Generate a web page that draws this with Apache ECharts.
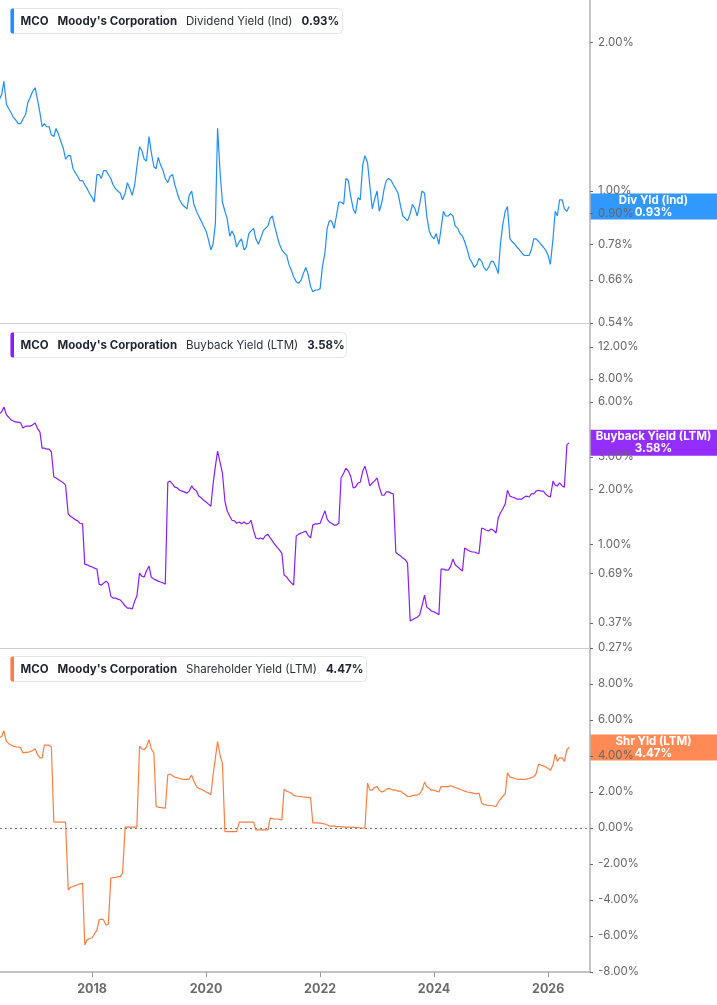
<!DOCTYPE html>
<html>
<head>
<meta charset="utf-8">
<script src="https://cdn.jsdelivr.net/npm/echarts@6/dist/echarts.min.js"></script>
<style>
  html, body { margin: 0; padding: 0; background: #fff; }
  #chart { width: 717px; height: 1005px; }
</style>
</head>
<body>
<div id="chart"></div>
<script>
// semi-monthly observation dates, 2016-05-15 .. 2026-05-15
function halfMonths(y, m, n) {
  var out = [];
  var day = 15;
  for (var i = 0; i < n; i++) {
    out.push(y + "-" + (m < 10 ? "0" + m : m) + "-" + (day < 10 ? "0" + day : day));
    if (day === 15) {
      day = 1;
      m++;
      if (m > 12) { m = 1; y++; }
    } else {
      day = 15;
    }
  }
  return out;
}
var dates = halfMonths(2016, 5, 241);

var divYield = [
  1.53,1.57,1.67,1.50,1.47,1.44,1.41,1.39,1.37,1.37,1.40,1.43,1.51,1.55,1.59,1.62,1.54,1.44,1.35,1.37,1.35,1.35,1.30,1.29,
  1.34,1.30,1.26,1.22,1.16,1.18,1.18,1.11,1.09,1.07,1.05,1.05,1.03,1.01,0.99,0.97,0.95,1.08,1.08,1.06,1.10,1.10,1.08,1.06,
  1.03,1.01,1.00,0.99,0.96,0.99,1.04,1.01,0.98,1.03,1.12,1.23,1.21,1.16,1.15,1.29,1.20,1.12,1.11,1.17,1.13,1.10,1.06,1.04,
  1.07,1.08,1.03,0.99,0.96,0.94,0.93,0.92,0.98,1.00,0.94,0.91,0.89,0.87,0.85,0.83,0.80,0.76,0.78,0.86,1.34,1.08,0.95,0.91,
  0.88,0.81,0.83,0.81,0.77,0.79,0.80,0.76,0.77,0.82,0.83,0.84,0.80,0.78,0.80,0.83,0.84,0.85,0.88,0.89,0.85,0.81,0.78,0.76,
  0.75,0.74,0.71,0.69,0.67,0.655,0.65,0.66,0.68,0.70,0.68,0.64,0.625,0.63,0.63,0.634,0.70,0.75,0.84,0.87,0.87,0.84,0.89,0.95,
  0.95,0.94,1.06,1.05,0.98,0.92,0.90,0.97,0.96,1.13,1.18,1.14,1.03,0.92,0.96,1.00,0.91,0.95,1.01,1.05,1.06,1.05,1.03,1.01,
  0.99,0.93,0.89,0.88,0.87,0.90,0.94,0.92,0.89,0.94,1.00,0.99,0.89,0.83,0.81,0.80,0.82,0.78,0.84,0.91,0.89,0.89,0.90,0.89,
  0.85,0.84,0.82,0.81,0.79,0.76,0.73,0.715,0.70,0.71,0.73,0.72,0.70,0.69,0.70,0.72,0.72,0.70,0.68,0.78,0.85,0.91,0.93,0.80,
  0.79,0.78,0.77,0.76,0.75,0.74,0.74,0.74,0.76,0.80,0.80,0.79,0.78,0.77,0.76,0.74,0.71,0.80,0.91,0.89,0.96,0.96,0.92,0.91,
  0.93
];

var buybackYield = [
  5.15,5.30,5.62,5.10,4.95,4.77,4.71,4.65,4.65,4.60,4.31,4.42,4.42,4.42,4.48,4.60,4.31,4.10,3.35,3.35,3.31,3.31,3.20,2.33,
  2.30,2.25,2.21,2.16,2.10,1.46,1.42,1.39,1.36,1.34,1.30,1.29,0.777,0.77,0.758,0.75,0.739,0.730,0.604,0.596,0.61,0.627,0.61,0.519,
  0.506,0.506,0.50,0.494,0.48,0.458,0.446,0.446,0.441,0.488,0.52,0.694,0.668,0.66,0.712,0.758,0.66,0.643,0.635,0.627,0.62,0.612,0.604,2.18,
  2.21,2.13,2.05,2.03,1.97,1.95,1.93,1.90,1.95,2.08,2.00,1.95,1.83,1.79,1.74,1.70,1.66,1.61,2.13,2.67,3.23,2.77,2.45,1.72,
  1.52,1.42,1.35,1.34,1.30,1.32,1.29,1.32,1.29,1.30,1.35,1.18,1.08,1.065,1.08,1.065,1.11,1.13,1.08,1.04,1.00,0.96,0.93,0.89,
  0.677,0.66,0.635,0.612,0.596,1.106,1.13,1.15,1.16,1.18,1.12,1.08,1.27,1.29,1.29,1.30,1.40,1.52,1.37,1.32,1.30,1.27,1.27,1.30,
  2.30,2.45,2.60,2.51,2.36,2.03,2.05,2.16,2.18,2.51,2.67,2.36,2.08,2.16,2.21,2.30,2.05,1.85,1.85,1.93,1.93,1.90,1.88,0.90,
  0.88,0.86,0.838,0.82,0.787,0.379,0.385,0.393,0.398,0.41,0.458,0.525,0.452,0.441,0.43,0.425,0.419,0.41,0.73,0.73,0.72,0.72,0.75,0.83,
  0.77,0.75,0.73,0.712,0.951,0.93,0.916,0.905,0.905,0.893,0.89,1.224,1.21,1.19,1.18,1.21,1.19,1.15,1.39,1.48,1.55,1.66,1.97,1.83,
  1.81,1.79,1.76,1.76,1.76,1.81,1.83,1.81,1.88,1.88,1.95,1.97,1.95,1.95,1.88,1.83,1.81,2.21,2.10,2.08,2.16,2.08,2.05,3.50,
  3.58
];

var shrYield = [
  5.0,5.1,5.4,4.8,4.7,4.6,4.55,4.5,4.5,4.45,4.17,4.2,4.2,4.25,4.3,4.4,4.1,3.9,3.9,4.6,4.6,4.6,4.5,0.33,
  0.33,0.33,0.33,0.33,0.33,-3.44,-3.3,-3.25,-3.2,-3.15,-3.1,-3.06,-6.5,-6.2,-6.15,-6.1,-5.9,-5.67,-5.1,-5.06,-5.1,-5.4,-5.35,-2.8,
  -2.75,-2.75,-2.7,-2.7,-2.5,0.05,0.05,0.05,0.05,0.05,0.05,4.55,4.4,4.35,4.5,4.9,4.4,4.15,1.22,1.15,1.15,1.12,1.1,2.95,
  3.0,2.9,2.82,2.8,2.75,2.72,2.7,2.7,2.72,2.94,2.6,2.3,2.2,2.15,2.1,2.0,1.95,1.85,2.94,3.9,4.8,4.0,3.6,-0.2,
  -0.2,-0.2,-0.2,-0.2,-0.2,0.33,0.33,0.33,0.33,0.33,0.33,0.33,-0.1,-0.1,-0.1,-0.1,-0.1,-0.1,0.55,0.52,0.5,0.5,0.48,0.45,
  2.15,2.05,2.0,1.94,1.8,1.78,1.75,1.75,1.72,1.72,1.7,1.67,0.28,0.28,0.28,0.27,0.25,0.22,0.17,0.12,0.1,0.1,0.08,0.08,
  0.07,0.06,0.05,0.05,0.05,0.04,0.03,0.02,0.0,0.0,0.0,2.5,2.1,2.1,2.25,2.3,2.1,2.0,2.05,2.15,2.2,2.15,2.1,2.1,
  2.05,2.05,1.95,1.85,1.75,1.75,1.8,1.83,1.83,1.9,2.1,2.55,2.3,2.2,2.1,2.1,2.05,2.0,2.3,2.3,2.3,2.3,2.35,2.3,
  2.25,2.2,2.15,2.1,2.05,2.0,1.98,1.95,1.92,1.9,1.94,1.39,1.3,1.28,1.25,1.25,1.22,1.2,1.44,1.6,1.75,1.9,3.06,2.83,
  2.8,2.75,2.72,2.7,2.7,2.7,2.72,2.75,2.8,2.85,3.0,3.55,3.5,3.45,3.4,3.3,3.2,3.5,4.1,3.7,3.9,3.9,3.7,4.35,
  4.47
];

var divTicks = [0.54, 0.66, 0.78, 0.90, 1.00, 2.00];
var buybackTicks = [0.27, 0.37, 0.69, 1.00, 2.00, 3.00, 6.00, 8.00, 12.00];

var seriesNames = ["Dividend Yield (Ind)", "Buyback Yield (LTM)", "Shareholder Yield (LTM)"];
var shortNames = ["Div Yld (Ind)", "Buyback Yield (LTM)", "Shr Yld (LTM)"];
var colors = ["#1e8fff", "#8b1cff", "#ff7c3f"];
var boxColors = ["rgba(30,143,255,0.92)", "rgba(139,28,255,0.92)", "rgba(255,128,70,0.92)"];

var FONT = "Inter, 'Noto Sans', sans-serif";
var myChart = echarts.init(document.getElementById("chart"));

function pairs(values, useLog) {
  var out = [];
  for (var i = 0; i < dates.length; i++) {
    out.push([dates[i], useLog ? Math.log10(values[i]) : values[i]]);
  }
  return out;
}

function pct(v) {
  return v.toFixed(2) + "%";
}

function makeXAxis(i) {
  return {
    type: "time",
    gridIndex: i,
    min: "2016-05-21",
    max: "2026-09-26",
    splitNumber: 5,
    axisLine: { show: true, onZero: false, lineStyle: { color: i < 2 ? "#cfcfcf" : "#b0b0b0", width: i < 2 ? 1 : 1.5 } },
    axisTick: { show: i === 2, length: 5, lineStyle: { color: "#999" } },
    axisLabel: {
      show: i === 2,
      formatter: function (v) { return String(new Date(v).getFullYear()); },
      color: "#6b6b6b",
      fontWeight: "bold",
      fontSize: 12.5,
      fontFamily: FONT,
      margin: 11
    },
    minorTick: { show: false },
    splitLine: { show: false }
  };
}

function makeYAxis(i, extra) {
  var axis = {
    type: "value",
    gridIndex: i,
    position: "right",
    axisLine: { show: true, lineStyle: { color: "#b0b0b0", width: 1.5 } },
    axisTick: { show: true, length: 3, lineStyle: { color: "#666" } },
    axisLabel: { color: "#666", fontSize: 11.5, fontFamily: FONT, margin: 8 },
    splitLine: { show: false }
  };
  for (var k in extra) {
    if (k === "axisLabel" || k === "axisTick") {
      for (var j in extra[k]) axis[k][j] = extra[k][j];
    } else {
      axis[k] = extra[k];
    }
  }
  return axis;
}

var logFmt = function (v) { return pct(Math.pow(10, v)); };

var option = {
  animation: false,
  grid: [
    { left: 0, right: 127, top: 0, height: 323 },
    { left: 0, right: 127, top: 324, height: 324 },
    { left: 0, right: 127, top: 648, height: 324 }
  ],
  xAxis: [makeXAxis(0), makeXAxis(1), makeXAxis(2)],
  yAxis: [
    makeYAxis(0, {
      min: Math.log10(0.54),
      max: Math.log10(2.44),
      axisLabel: { customValues: divTicks.map(Math.log10), formatter: logFmt },
      axisTick: { customValues: divTicks.map(Math.log10) }
    }),
    makeYAxis(1, {
      min: Math.log10(0.27),
      max: Math.log10(16),
      axisLabel: { customValues: buybackTicks.map(Math.log10), formatter: logFmt },
      axisTick: { customValues: buybackTicks.map(Math.log10) }
    }),
    makeYAxis(2, {
      min: -8,
      max: 10,
      interval: 2,
      axisLabel: { formatter: function (v) { return v >= 10 ? "" : pct(v); } }
    })
  ],
  series: [
    {
      name: seriesNames[0], type: "line", xAxisIndex: 0, yAxisIndex: 0,
      data: pairs(divYield, true), showSymbol: false,
      lineStyle: { color: colors[0], width: 1.2 }, itemStyle: { color: colors[0] }
    },
    {
      name: seriesNames[1], type: "line", xAxisIndex: 1, yAxisIndex: 1,
      data: pairs(buybackYield, true), showSymbol: false,
      lineStyle: { color: colors[1], width: 1.2 }, itemStyle: { color: colors[1] }
    },
    {
      name: seriesNames[2], type: "line", xAxisIndex: 2, yAxisIndex: 2,
      data: pairs(shrYield, false), showSymbol: false,
      lineStyle: { color: colors[2], width: 1.2 }, itemStyle: { color: colors[2] },
      markLine: {
        silent: true, symbol: "none", label: { show: false },
        lineStyle: { color: "#777", type: [2, 3], width: 1 },
        data: [{ yAxis: 0 }]
      }
    }
  ]
};
myChart.setOption(option);

// legend boxes and last value tags
var lastValues = [divYield[divYield.length - 1], buybackYield[buybackYield.length - 1], shrYield[shrYield.length - 1]];
var gridTops = [0, 324, 648];
var legendWidths = [332, 336, 356];
var graphics = [];
for (var i = 0; i < 3; i++) {
  graphics.push({
    type: "group",
    left: 10,
    top: gridTops[i] + 8,
    children: [
      { type: "rect", shape: { x: 0, y: 0, width: legendWidths[i], height: 25, r: 4 },
        style: { fill: "#fff", stroke: "#e6e6e6", lineWidth: 1 } },
      { type: "rect", shape: { x: 0, y: 0, width: 3.5, height: 25, r: [2, 0, 0, 2] },
        style: { fill: colors[i] } },
      { type: "text", x: 10, y: 13,
        style: {
          text: "{b|MCO}{sp| }{b|Moody's Corporation}{sp| }{n|" + seriesNames[i] + "}{sp| }{b|" + pct(lastValues[i]) + "}",
          verticalAlign: "middle",
          rich: {
            b: { fontFamily: FONT, fontSize: 11.5, fontWeight: "bold", fill: "#1f2430" },
            n: { fontFamily: FONT, fontSize: 11.5, fill: "#2b2f38" },
            sp: { width: 9 }
          }
        } }
    ]
  });
  var yv = i < 2 ? Math.log10(lastValues[i]) : lastValues[i];
  var py = myChart.convertToPixel({ yAxisIndex: i }, yv);
  graphics.push({
    type: "group",
    x: 590,
    y: py - 13,
    z: 100,
    children: [
      { type: "rect", shape: { x: 0, y: 0, width: 127, height: 26 }, style: { fill: boxColors[i] } },
      { type: "text", x: 63.5, y: 13,
        style: {
          text: shortNames[i] + "\n" + pct(lastValues[i]),
          align: "center", verticalAlign: "middle",
          fontFamily: FONT, fontSize: 11.5, fontWeight: "bold", lineHeight: 12, fill: "#fff"
        } }
    ]
  });
}
myChart.setOption({ graphic: graphics });
</script>
</body>
</html>
